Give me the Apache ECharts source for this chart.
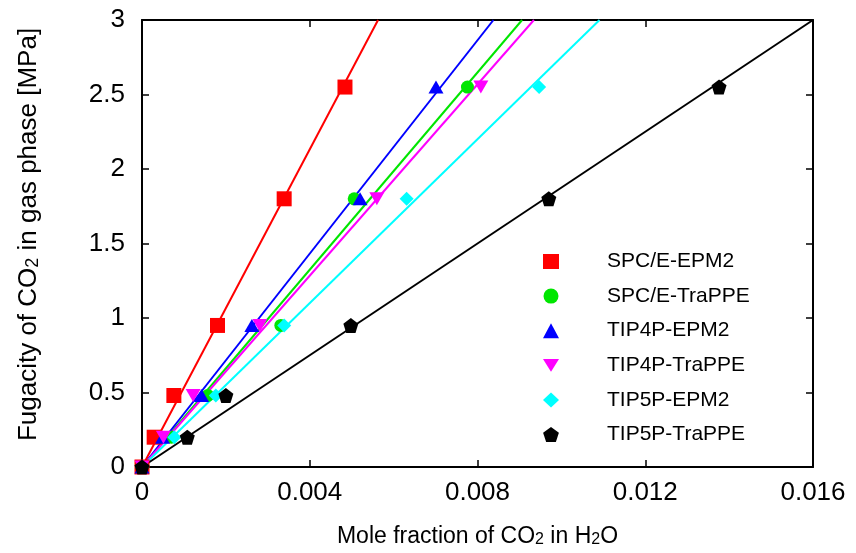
<!DOCTYPE html>
<html>
<head>
<meta charset="utf-8">
<title>CO2 fugacity vs mole fraction</title>
<script src="https://cdn.jsdelivr.net/npm/echarts@6/dist/echarts.min.js"></script>
<style>
  html, body { margin: 0; padding: 0; background: #fff; }
  #chart { width: 856px; height: 553px; }
</style>
</head>
<body>
<div id="chart"></div>
<script>
// pressure levels (MPa), shared by all models
var pressure = [0, 0.2, 0.48, 0.95, 1.8, 2.55];

// mole fraction of CO2 in water
var spceEpm2X    = [0, 0.00029, 0.00076, 0.00180, 0.00339, 0.00484];
var spceTrappeX  = [0, 0.00070, 0.00157, 0.00331, 0.00506, 0.00776];
var tip4pEpm2X   = [0, 0.00049, 0.00142, 0.00262, 0.00520, 0.00701];
var tip4pTrappeX = [0, 0.00051, 0.00122, 0.00281, 0.00560, 0.00808];
var tip5pEpm2X   = [0, 0.00077, 0.00176, 0.00339, 0.00631, 0.00947];
var tip5pTrappeX = [0, 0.00108, 0.00200, 0.00498, 0.00970, 0.01376];

// slopes of the fitted lines through the origin (MPa per mole fraction)
var fitSlopes = [533, 331, 358, 321, 275, 187.5];

var names  = ['SPC/E-EPM2', 'SPC/E-TraPPE', 'TIP4P-EPM2', 'TIP4P-TraPPE', 'TIP5P-EPM2', 'TIP5P-TraPPE'];
var colors = ['#ff0000', '#00e600', '#0000ff', '#ff00ff', '#00ffff', '#000000'];
var xLists = [spceEpm2X, spceTrappeX, tip4pEpm2X, tip4pTrappeX, tip5pEpm2X, tip5pTrappeX];

var xTicks = [0, 0.004, 0.008, 0.012, 0.016];
var yTicks = [0, 0.5, 1, 1.5, 2, 2.5, 3];

var pentagon = 'path://M50,0 L97.6,34.5 L79.4,90.5 L20.6,90.5 L2.4,34.5 Z';
var downTri  = 'path://M0,0 L100,0 L50,80 Z';
var symbols  = ['rect', 'circle', 'triangle', downTri, 'diamond', pentagon];
var symSizes = [15, 13, [15, 13], [15, 13], 14, 15];

var FONT = '"Liberation Sans", Arial, Helvetica, sans-serif';
var yMax = yTicks[yTicks.length - 1];

var series = [];
// fit lines first so the markers sit on top
for (var i = 0; i < names.length; i++) {
    series.push({
        type: 'line',
        name: names[i] + ' fit',
        data: [[0, 0], [yMax / fitSlopes[i], yMax]],
        showSymbol: false,
        symbol: 'none',
        lineStyle: { color: colors[i], width: 2 },
        silent: true,
        z: 1,
        animation: false
    });
}
for (var i = 0; i < names.length; i++) {
    var pts = [];
    for (var j = 0; j < pressure.length; j++) {
        pts.push([xLists[i][j], pressure[j]]);
    }
    series.push({
        type: 'scatter',
        name: names[i],
        data: pts,
        symbol: symbols[i],
        symbolSize: symSizes[i],
        itemStyle: { color: colors[i], opacity: 1 },
        z: 2 + i,
        animation: false
    });
}

var legendData = [];
for (var i = 0; i < names.length; i++) {
    legendData.push({ name: names[i], icon: symbols[i] });
}

var axisLine = { show: true, onZero: false, lineStyle: { color: '#000', width: 2 } };
var tick = { show: true, inside: true, length: 7, lineStyle: { color: '#000', width: 1.5 } };

var option = {
    animation: false,
    backgroundColor: '#fff',
    textStyle: { fontFamily: FONT },
    grid: { left: 142, right: 43, top: 20, bottom: 86, containLabel: false },
    legend: {
        data: legendData,
        orient: 'vertical',
        left: 543,
        top: 251,
        padding: 0,
        itemWidth: 16,
        itemHeight: 15,
        itemGap: 13.6,
        textStyle: { fontSize: 21, color: '#000', fontFamily: FONT, lineHeight: 20, padding: [0, 0, 0, 43] }
    },
    xAxis: [{
        type: 'value',
        min: 0, max: 0.016, interval: 0.004,
        position: 'bottom',
        axisLine: axisLine,
        axisTick: tick,
        splitLine: { show: false },
        axisLabel: { fontSize: 26, color: '#000', margin: 13, fontFamily: FONT },
        name: 'Mole fraction of CO{s|2} in H{s|2}O',
        nameLocation: 'middle',
        nameGap: 58,
        nameTextStyle: { fontSize: 23, color: '#000', fontFamily: FONT,
            rich: { s: { fontSize: 16, verticalAlign: 'bottom', fontFamily: FONT, color: '#000' } } }
    }, {
        type: 'value',
        min: 0, max: 0.016, interval: 0.004,
        position: 'top',
        axisLine: axisLine,
        axisTick: tick,
        axisLabel: { show: false },
        splitLine: { show: false }
    }],
    yAxis: [{
        type: 'value',
        min: 0, max: 3, interval: 0.5,
        position: 'left',
        axisLine: axisLine,
        axisTick: tick,
        splitLine: { show: false },
        axisLabel: { fontSize: 26, color: '#000', margin: 17, fontFamily: FONT },
        name: 'Fugacity of CO{s|2} in gas phase [MPa]',
        nameLocation: 'middle',
        nameGap: 100,
        nameRotate: 90,
        nameTextStyle: { fontSize: 26, color: '#000', fontFamily: FONT, padding: [0, 0, 0, 18],
            rich: { s: { fontSize: 18, verticalAlign: 'bottom', fontFamily: FONT, color: '#000' } } }
    }, {
        type: 'value',
        min: 0, max: 3, interval: 0.5,
        position: 'right',
        axisLine: axisLine,
        axisTick: tick,
        axisLabel: { show: false },
        splitLine: { show: false }
    }],
    series: series
};

var chart = echarts.init(document.getElementById('chart'), null, { renderer: 'canvas' });
chart.setOption(option);
</script>
</body>
</html>
